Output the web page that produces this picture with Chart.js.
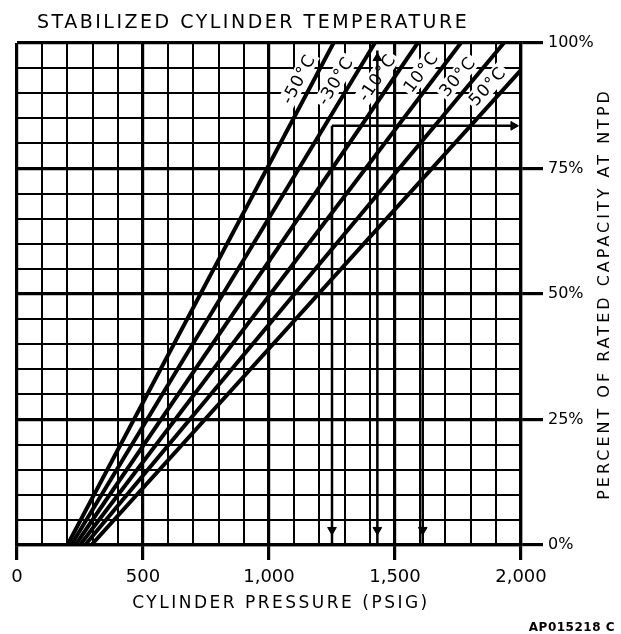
<!DOCTYPE html>
<html><head><meta charset="utf-8">
<script src="https://cdn.jsdelivr.net/npm/chart.js@4.4.1/dist/chart.umd.min.js"></script>
<style>html,body{margin:0;padding:0;background:#fff;}#wrap{width:621px;height:634px;}</style>
</head><body><div id="wrap"><canvas id="c" width="621" height="634"></canvas></div>
<script>
// ---- data ----
const temperatures   = ['-50°C', '-30°C', '-10°C', '10°C', '30°C', '50°C'];
const pressureAtZero = [200, 215, 232, 250, 270, 295];       // psig where each line meets 0 %
const pressureAtFull = [1256, 1420, 1590, 1761, 1932, 2097]; // psig where each line meets 100 %
const xTickValues = [0, 500, 1000, 1500, 2000];
const yTickValues = [0, 25, 50, 75, 100];
const examplePressures = [1250, 1430, 1610];
const exampleTops = [83.5, 98.5, 83.5];
const exampleCapacity = 83.5;
const exampleArrowEnd = 1985;
const labelLevels = [91.5, 91, 91.5, 92.5, 91.5, 89.5];

const FONT = '"DejaVu Sans"';

const tempSets = temperatures.map((t, i) => ({
  label: t,
  data: [{x: pressureAtZero[i], y: 0}, {x: pressureAtFull[i], y: 100}],
  showLine: true, borderColor: '#000', borderWidth: 4, pointRadius: 0
}));
const vertSets = examplePressures.map((p, i) => ({
  label: 'v' + p,
  data: [{x: p, y: exampleTops[i]}, {x: p, y: 0}],
  showLine: true, borderColor: '#000', borderWidth: 2.5, pointRadius: 0
}));
const horizSet = {
  label: 'h',
  data: [{x: examplePressures[0], y: exampleCapacity}, {x: exampleArrowEnd, y: exampleCapacity}],
  showLine: true, borderColor: '#000', borderWidth: 2.5, pointRadius: 0
};
const headSet = {
  label: 'heads',
  data: examplePressures.map(p => ({x: p, y: 3}))
        .concat([{x: exampleArrowEnd - 15, y: exampleCapacity}, {x: examplePressures[1], y: exampleTops[1] - 1.5}]),
  showLine: false, pointStyle: 'triangle', pointRadius: 5,
  rotation: examplePressures.map(() => 180).concat([90, 0]),
  backgroundColor: '#000', borderColor: '#000', borderWidth: 1
};

const annot = {
  id: 'annot',
  beforeDatasetsDraw(chart) {
    const {ctx, scales: {x, y}, chartArea: a} = chart;
    ctx.save();
    ctx.beginPath();
    ctx.rect(a.left + 2, a.top + 2, a.right - a.left - 4, a.bottom - a.top - 4);
    ctx.clip();
    ctx.font = '17px ' + FONT;
    ctx.letterSpacing = '1px';
    ctx.textAlign = 'center';
    ctx.textBaseline = 'middle';
    temperatures.forEach((t, i) => {
      const p0 = pressureAtZero[i], p1 = pressureAtFull[i];
      const dx = x.getPixelForValue(p1) - x.getPixelForValue(p0);
      const dy = y.getPixelForValue(100) - y.getPixelForValue(0);
      const len = Math.hypot(dx, dy);
      const ang = Math.atan2(dy, dx);
      const lvl = labelLevels[i];
      const f = lvl / 100;
      const px = x.getPixelForValue(p0 + (p1 - p0) * f) + 14 * dy / len;
      const py = y.getPixelForValue(lvl) - 14 * dx / len;
      ctx.save();
      ctx.translate(px, py);
      ctx.rotate(ang);
      const w = ctx.measureText(t).width;
      ctx.fillStyle = '#fff';
      ctx.fillRect(-w / 2 - 2, -9, w + 4, 18);
      ctx.fillStyle = '#000';
      ctx.fillText(t, 0, 1);
      ctx.restore();
    });
    ctx.restore();
  },
  afterDraw(chart) {
    const {ctx, chartArea: a} = chart;
    ctx.save();
    ctx.fillStyle = '#000';
    ctx.font = '19px ' + FONT;
    ctx.letterSpacing = '2.5px';
    ctx.textAlign = 'left';
    ctx.textBaseline = 'alphabetic';
    ctx.fillText('STABILIZED CYLINDER TEMPERATURE', a.left + 20, a.top - 15);

    ctx.font = '17px ' + FONT;
    ctx.letterSpacing = '2.5px';
    ctx.textAlign = 'center';
    ctx.textBaseline = 'middle';
    ctx.fillText('CYLINDER PRESSURE (PSIG)', (a.left + a.right) / 2 + 12, a.bottom + 59);

    ctx.save();
    ctx.translate(a.right + 84, (a.top + a.bottom) / 2);
    ctx.rotate(-Math.PI / 2);
    ctx.font = '16px ' + FONT;
    ctx.letterSpacing = '3px';
    ctx.fillText('PERCENT OF RATED CAPACITY AT NTPD', 0, 0);
    ctx.restore();

    ctx.font = 'bold 12px ' + FONT;
    ctx.letterSpacing = '0.5px';
    ctx.textAlign = 'right';
    ctx.textBaseline = 'alphabetic';
    ctx.fillText('AP015218 C', chart.width - 6, chart.height - 3);
    ctx.restore();
  }
};

new Chart(document.getElementById('c'), {
  type: 'scatter',
  data: {datasets: tempSets.concat(vertSets, [horizSet, headSet])},
  options: {
    responsive: false, animation: false, devicePixelRatio: 1,
    layout: {padding: {left: 17, top: 43, right: 0, bottom: 0}},
    plugins: {legend: {display: false}, title: {display: false}, tooltip: {enabled: false}},
    scales: {
      x: {
        type: 'linear', min: 0, max: 2000,
        afterFit: s => { s.height = 89; },
        ticks: {
          stepSize: 100, autoSkip: false, maxRotation: 0, padding: 7,
          color: '#000', font: {family: FONT, size: 18},
          callback: v => xTickValues.includes(v) ? v.toLocaleString('en-US') : ''
        },
        grid: {
          color: '#000', tickLength: 15,
          lineWidth: c => xTickValues.includes(c.tick.value) ? 3.2 : 2,
          tickColor: c => (c.tick && xTickValues.includes(c.tick.value)) ? '#000' : 'rgba(0,0,0,0)',
          tickWidth: 3.2
        },
        border: {color: '#000', width: 3.2},
        title: {display: false}
      },
      y: {
        type: 'linear', position: 'right', min: 0, max: 100,
        afterFit: s => { s.width = 100; },
        ticks: {
          stepSize: 5, autoSkip: false, padding: 5,
          color: '#000', font: {family: FONT, size: 16},
          callback: v => yTickValues.includes(v) ? v + '%' : ''
        },
        grid: {
          color: '#000', tickLength: 22,
          lineWidth: c => yTickValues.includes(c.tick.value) ? 3.2 : 2,
          tickColor: c => (c.tick && yTickValues.includes(c.tick.value)) ? '#000' : 'rgba(0,0,0,0)',
          tickWidth: 3.2
        },
        border: {color: '#000', width: 3.2}
      }
    }
  },
  plugins: [annot]
});
</script></body></html>
